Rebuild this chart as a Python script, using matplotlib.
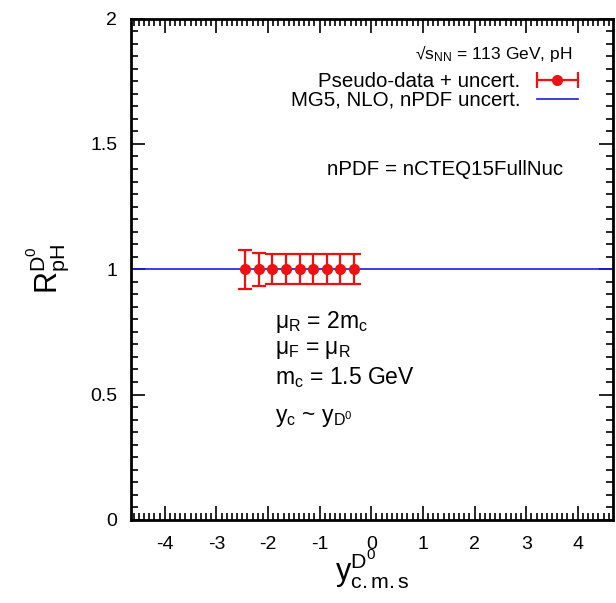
import numpy as np
import matplotlib
matplotlib.use('Agg')
import matplotlib.pyplot as plt
from matplotlib.ticker import MultipleLocator
from matplotlib.lines import Line2D
from matplotlib.legend_handler import HandlerLine2D, HandlerTuple

plt.rcParams['font.family'] = ['Liberation Sans', 'DejaVu Sans']
plt.rcParams['mathtext.fontset'] = 'custom'
plt.rcParams['mathtext.rm'] = 'Liberation Sans'
plt.rcParams['mathtext.it'] = 'Liberation Sans'
plt.rcParams['axes.unicode_minus'] = False

# pseudo-data points (rapidity bins) and uncertainties
y_cms = [-2.45, -2.18, -1.92, -1.65, -1.38, -1.12, -0.86, -0.60, -0.34]
r_pH = [1.0, 1.0, 1.0, 1.0, 1.0, 1.0, 1.0, 1.0, 1.0]
r_err = [0.078, 0.065, 0.059, 0.059, 0.059, 0.059, 0.059, 0.059, 0.059]

# MG5 NLO prediction (flat)
mg5_x = [-4.7, 4.7]
mg5_y = [1.0, 1.0]

red = '#ee1111'
fig = plt.figure(figsize=(6.16, 6.03), dpi=100)
ax = fig.add_axes([0.213, 0.138, 0.782, 0.831])

line, = ax.plot(mg5_x, mg5_y, color='#1a1ae0', lw=1.2, label='MG5, NLO, nPDF uncert.')
ax.errorbar(y_cms, r_pH, yerr=r_err, fmt='o', color=red,
            ms=7, elinewidth=1.6, capsize=5, capthick=1.6)

# legend sample: horizontal bar with end caps + marker
cap_proxy = Line2D([], [], color=red, lw=1.6, marker='|', ms=11, mew=1.6)
dot_proxy = Line2D([], [], color=red, ls='none', marker='o', ms=7)

ax.set_xlim(-4.65, 4.68)
ax.set_ylim(0, 2)
ax.xaxis.set_major_locator(MultipleLocator(1))
ax.xaxis.set_minor_locator(MultipleLocator(0.1))
ax.yaxis.set_minor_locator(MultipleLocator(0.05))
ax.set_yticks([0, 0.5, 1, 1.5, 2])
ax.set_yticklabels(['0', '0.5', '1', '1.5', '2'])
ax.tick_params(which='both', direction='in', top=True, right=True, labelsize=14, width=1.2)
ax.tick_params(which='major', length=10, pad=12)
ax.tick_params(axis='y', which='major', pad=10)
ax.tick_params(which='minor', length=5)
for s in ax.spines.values():
    s.set_linewidth(2)

ax.set_xlabel(r'$\mathregular{y^{D^0}_{c.m.s}}$', fontsize=22, labelpad=-4)
ax.set_ylabel(r'$\mathregular{R^{D^0}_{pH}}$', fontsize=22, labelpad=14)

ax.text(0.915, 0.93, '√' + r'$\mathregular{s_{NN}}$' + ' = 113 GeV, pH', transform=ax.transAxes,
        ha='right', va='center', fontsize=12.5)

leg = ax.legend(handles=[(cap_proxy, dot_proxy), line],
                labels=['Pseudo-data + uncert.', 'MG5, NLO, nPDF uncert.'],
                loc='upper right', bbox_to_anchor=(0.927, 0.894),
                frameon=False, fontsize=14.8, markerfirst=False, handlelength=2.0,
                handletextpad=0.8, labelspacing=0.0, borderaxespad=0, borderpad=0,
                handler_map={cap_proxy: HandlerLine2D(numpoints=2, marker_pad=0),
                             tuple: HandlerTuple(ndivide=1, pad=0)})

ax.text(0.407, 0.699, 'nPDF = nCTEQ15FullNuc', transform=ax.transAxes,
        ha='left', va='center', fontsize=14.8)

ax.text(0.298, 0.395, r'$\mathregular{μ_R}$ = 2m$\mathregular{_c}$', transform=ax.transAxes,
        ha='left', va='center', fontsize=16.5)
ax.text(0.298, 0.339, r'$\mathregular{μ_F}$ = $\mathregular{μ_R}$', transform=ax.transAxes,
        ha='left', va='center', fontsize=16.5)
ax.text(0.298, 0.283, r'm$\mathregular{_c}$ = 1.5 GeV', transform=ax.transAxes,
        ha='left', va='center', fontsize=16.5)
ax.text(0.298, 0.204, r'$\mathregular{y_c}$ ~ $\mathregular{y_{D^0}}$', transform=ax.transAxes,
        ha='left', va='center', fontsize=16.5)

fig.savefig('out.png', dpi=100)
